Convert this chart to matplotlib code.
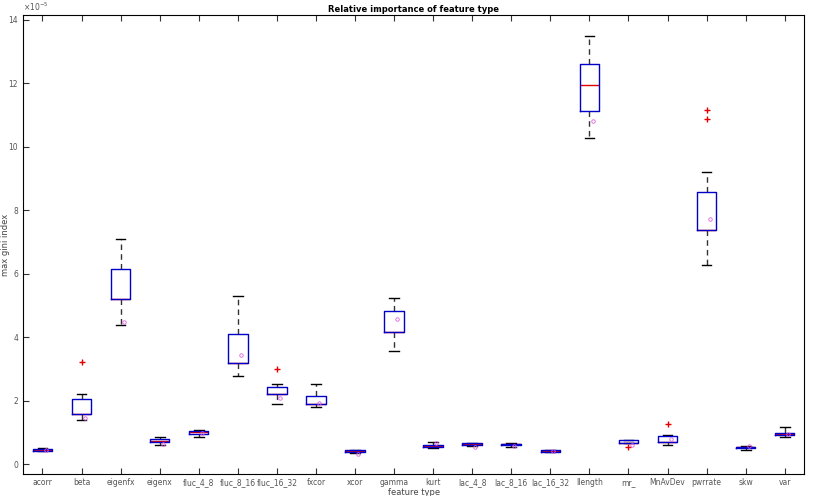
import matplotlib
matplotlib.use("Agg")
import matplotlib.pyplot as plt
import numpy as np

# Feature types and box statistics (units of 1e-5)
names = ["acorr", "beta", "eigenfx", "eigenx", "fluc_4_8", "fluc_8_16",
         "fluc_16_32", "fxcor", "xcor", "gamma", "kurt", "lac_4_8",
         "lac_8_16", "lac_16_32", "llength", "mr_", "MnAvDev", "pwrrate",
         "skw", "var"]
q1 = [0.42, 1.57, 5.19, 0.68, 0.96, 3.18, 2.20, 1.88, 0.38, 4.15,
      0.55, 0.61, 0.60, 0.39, 11.14, 0.67, 0.70, 7.37, 0.50, 0.93]
med = [0.45, 1.57, 5.19, 0.74, 1.00, 3.18, 2.20, 1.88, 0.41, 4.15,
       0.57, 0.63, 0.62, 0.41, 11.96, 0.67, 0.70, 7.37, 0.53, 0.95]
q3 = [0.48, 2.04, 6.14, 0.79, 1.04, 4.09, 2.42, 2.15, 0.43, 4.83,
      0.60, 0.65, 0.64, 0.43, 12.62, 0.75, 0.87, 8.57, 0.55, 0.97]
whis_lo = [0.40, 1.39, 4.38, 0.59, 0.86, 2.78, 1.88, 1.79, 0.36, 3.56,
           0.50, 0.58, 0.55, 0.37, 10.28, 0.65, 0.59, 6.27, 0.44, 0.84]
whis_hi = [0.50, 2.20, 7.10, 0.84, 1.07, 5.29, 2.53, 2.51, 0.45, 5.23,
           0.68, 0.67, 0.66, 0.45, 13.50, 0.77, 0.91, 9.22, 0.57, 1.16]
means = [0.44, 1.45, 4.49, 0.63, 0.97, 3.44, 2.09, 1.93, 0.32, 4.56,
         0.65, 0.53, 0.58, 0.40, 10.81, 0.60, 0.79, 7.73, 0.58, 0.95]
fliers = [[], [3.21], [], [], [], [], [3.0], [], [], [], [],
          [], [], [], [], [0.55], [1.26], [10.87, 11.16], [], []]

stats = []
for i in range(len(names)):
    stats.append(dict(q1=q1[i], med=med[i], q3=q3[i], whislo=whis_lo[i],
                      whishi=whis_hi[i], fliers=fliers[i], label=names[i]))

fig = plt.figure(figsize=(8.19, 4.96), dpi=100)
ax = fig.add_axes([0.028, 0.044, 0.954, 0.926])

pos = np.arange(1, len(names) + 1)
ax.bxp(stats, positions=pos, widths=0.5, showfliers=True,
       boxprops=dict(color="#0000c8", linewidth=1.0, zorder=2.2),
       medianprops=dict(color="#e00000", linewidth=1.0, zorder=2.1),
       whiskerprops=dict(color="#333333", linestyle=(0, (4, 3)), linewidth=1.0),
       capprops=dict(color="black", linewidth=1.0),
       flierprops=dict(marker="+", markeredgecolor="#e00000", markersize=4,
                       linestyle="none"))

# mean markers
ax.plot(pos + 0.08, means, linestyle="none", marker="o", markersize=2.5,
        markerfacecolor="none", markeredgecolor="#e060e0", markeredgewidth=0.6,
        zorder=3)

ax.set_xlim(0.5, len(names) + 0.5)
ax.set_ylim(-0.32, 14.16)
ax.set_yticks(np.arange(0, 15, 2))
ax.set_xticks(pos)
ax.set_xticklabels(names)
ax.tick_params(direction="in", labelsize=5.5, length=4, top=True, right=False,
               colors="#333333", labelcolor="#555555")
ax.tick_params(axis="x", pad=2.5)
for s in ax.spines.values():
    s.set_linewidth(0.8)

ax.text(0.0, 1.005, r"$\times10^{-5}$", transform=ax.transAxes, fontsize=5.5,
        color="#555555", va="bottom", ha="left")
ax.set_title("Relative importance of feature type", fontsize=6,
             fontweight="bold", pad=2)
ax.set_xlabel("feature type", fontsize=6, color="#444444", va="center")
ax.set_ylabel("max gini index", fontsize=6, color="#444444")
ax.xaxis.set_label_coords(0.5, -0.039)
ax.yaxis.set_label_coords(-0.016, 0.5)

fig.savefig("out.png", dpi=100)
